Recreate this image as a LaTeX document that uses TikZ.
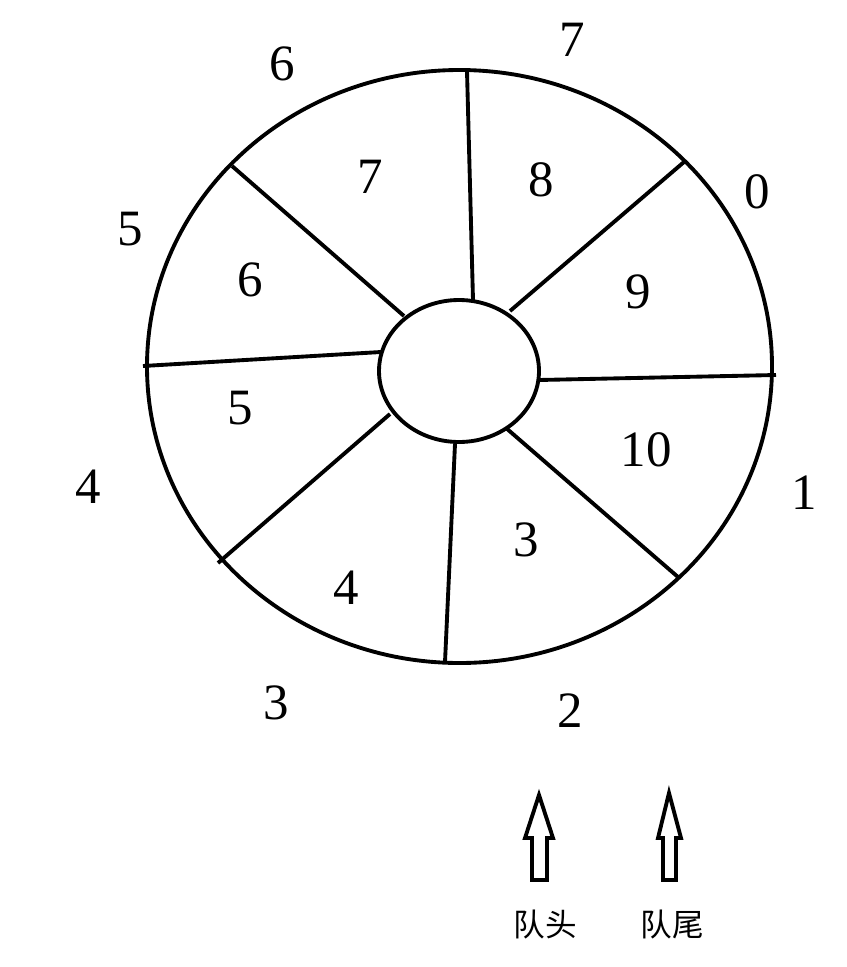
\documentclass[tikz,border=0pt]{standalone}
\usepackage{fontspec}
\setmainfont{Liberation Serif}
\newfontfamily\cjk{Noto Sans CJK SC}

\begin{document}
\begin{tikzpicture}[x=0.02cm, y=-0.02cm, line width=2.2pt,
    num/.style={font=\fontsize{29}{34}\selectfont},
    word/.style={font=\cjk\fontsize{18}{22}\selectfont}]
    \useasboundingbox (0,0) rectangle (847,967);

    % ring
    \draw (459.5,366.5) ellipse (312.5 and 296.5);
    \draw (459,371) ellipse (80 and 71);

    % spokes
    \draw (473,300) -- (467,71);
    \draw (510,311) -- (684,162);
    \draw (539,380) -- (776,375);
    \draw (506,428) -- (678,577);
    \draw (455,444) -- (445,662);
    \draw (390,414) -- (218,563);
    \draw (381,352) -- (143,366);
    \draw (404,316) -- (232,166);

    % index outside
    \node[num] (i7) at (572,40) {7};
    \node[num] (i0) at (757,192) {0};
    \node[num] (i1) at (804,493) {1};
    \node[num] (i2) at (570,711) {2};
    \node[num] (i3) at (276,703) {3};
    \node[num] (i4) at (88,487) {4};
    \node[num] (i5) at (130,229) {5};
    \node[num] (i6) at (282,64) {6};

    % values inside
    \node[num] (v8) at (541,180) {8};
    \node[num] (v9) at (638,292) {9};
    \node[num] (v10) at (646,450) {10};
    \node[num] (v3) at (526,540) {3};
    \node[num] (v4) at (346,588) {4};
    \node[num] (v5) at (240,408) {5};
    \node[num] (v6) at (250,280) {6};
    \node[num] (v7) at (370,177) {7};

    % pointers
    \draw[line join=miter] (539,795) -- (553,838) -- (547,838) -- (547,880)
        -- (532,880) -- (532,838) -- (525,838) -- cycle;
    \draw[line join=miter] (669,793) -- (681,838) -- (676,838) -- (676,880)
        -- (663,880) -- (663,838) -- (658,838) -- cycle;
    \node[word] (head) at (545,925) {队头};
    \node[word] (tail) at (672,925) {队尾};
\end{tikzpicture}
\end{document}
